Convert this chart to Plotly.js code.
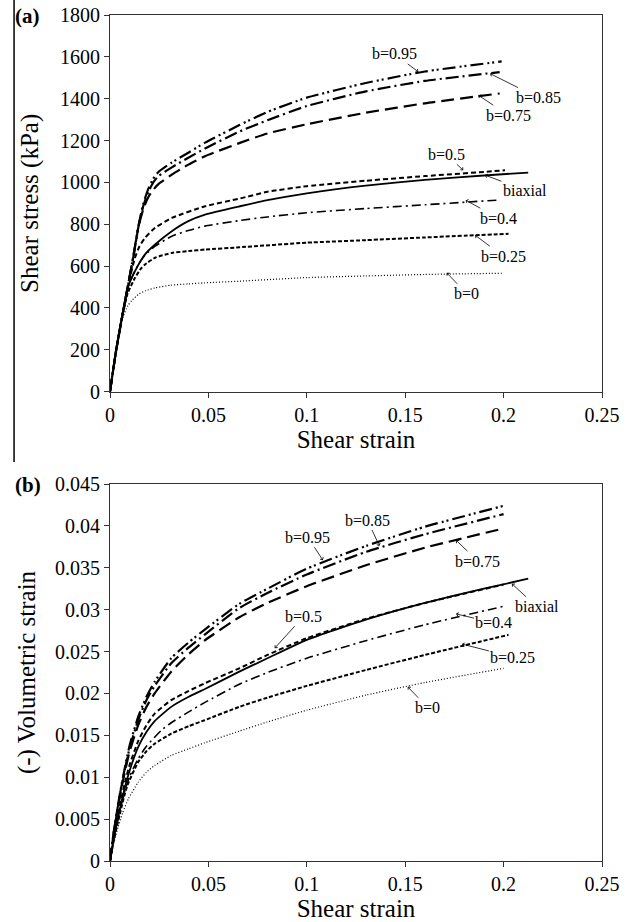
<!DOCTYPE html>
<html>
<head>
<meta charset="utf-8">
<script src="https://cdn.plot.ly/plotly-3.0.1.min.js"></script>
<style>html,body{margin:0;padding:0;background:#fff;}#chart{width:640px;height:922px;}</style>
</head>
<body>
<div id="chart"></div>
<script>
// ---------- (a) shear stress (kPa) vs shear strain ----------
const seriesNames = ["b=0", "b=0.25", "b=0.4", "biaxial", "b=0.5", "b=0.75", "b=0.85", "b=0.95"];

const stressX_b0    = [0,0.003,0.006,0.009,0.011,0.0145,0.018,0.023,0.031,0.04,0.048,0.066,0.1,0.13,0.16,0.2];
const stressY_b0    = [0,190,340,410,435,465,482,496,509,515,520,528,545,553,560,566];
const stressX_b025  = [0,0.003,0.006,0.009,0.0127,0.0155,0.0178,0.0229,0.0314,0.04,0.0483,0.066,0.1,0.13,0.16,0.2025];
const stressY_b025  = [0,190,350,470,544,585,608,640,663,672,679,690,712,724,737,754];
const stressX_b04   = [0,0.003,0.006,0.009,0.0115,0.0144,0.018,0.0229,0.0314,0.0398,0.0483,0.066,0.08,0.1,0.13,0.16,0.198];
const stressY_b04   = [0,190,350,490,555,608,655,695,743,770,791,818,835,855,875,893,916];
const stressX_biax  = [0,0.003,0.006,0.009,0.0127,0.0178,0.0229,0.0314,0.0398,0.0483,0.066,0.08,0.1,0.13,0.16,0.19,0.2125];
const stressY_biax  = [0,190,350,495,576,656,703,767,815,846,886,915,948,985,1012,1033,1047];
const stressX_b05   = [0,0.003,0.006,0.009,0.0127,0.015,0.0178,0.0229,0.0314,0.0483,0.066,0.08,0.1,0.13,0.16,0.19,0.2007];
const stressY_b05   = [0,190,350,500,640,695,735,783,830,886,923,955,982,1008,1030,1050,1058];
const stressX_b075  = [0,0.003,0.006,0.009,0.012,0.0145,0.017,0.0195,0.022,0.0246,0.0314,0.0398,0.0483,0.066,0.08,0.1,0.13,0.16,0.198];
const stressY_b075  = [0,190,350,500,650,790,875,930,965,992,1037,1085,1125,1189,1234,1278,1333,1378,1425];
const stressX_b085  = [0,0.003,0.006,0.009,0.012,0.0145,0.017,0.0195,0.022,0.0246,0.0314,0.0398,0.0483,0.066,0.08,0.1,0.13,0.16,0.198];
const stressY_b085  = [0,190,350,500,655,790,890,955,1000,1030,1072,1118,1162,1244,1297,1365,1435,1485,1527];
const stressX_b095  = [0,0.003,0.006,0.009,0.012,0.0145,0.017,0.0195,0.022,0.0246,0.0314,0.0398,0.0483,0.066,0.08,0.1,0.13,0.16,0.199];
const stressY_b095  = [0,190,350,500,655,795,900,970,1018,1050,1095,1142,1190,1275,1337,1405,1475,1530,1578];

// ---------- (b) (-) volumetric strain vs shear strain ----------
const volX_b0    = [0,0.002,0.0042,0.0065,0.0093,0.0143,0.0185,0.0227,0.0311,0.04,0.048,0.0657,0.08,0.1,0.13,0.16,0.2];
const volY_b0    = [0,0.0022,0.0041,0.0058,0.0074,0.0094,0.0106,0.0114,0.0126,0.0134,0.0141,0.0155,0.0166,0.0180,0.0198,0.0213,0.0230];
const volX_b025  = [0,0.002,0.005,0.0076,0.0093,0.0143,0.0185,0.0227,0.0311,0.04,0.048,0.0657,0.08,0.1,0.13,0.16,0.2025];
const volY_b025  = [0,0.0026,0.0056,0.0081,0.0093,0.0118,0.0131,0.0140,0.0152,0.0161,0.0168,0.0184,0.0195,0.0209,0.0228,0.0246,0.0270];
const volX_b04   = [0,0.002,0.005,0.0076,0.01,0.0143,0.0185,0.0261,0.0311,0.04,0.048,0.0657,0.08,0.1,0.13,0.16,0.2];
const volY_b04   = [0,0.0027,0.0060,0.0084,0.0101,0.0122,0.0137,0.0156,0.0165,0.0178,0.0189,0.0211,0.0225,0.0242,0.0263,0.0282,0.0304];
const volX_biax  = [0,0.002,0.005,0.0076,0.01,0.0143,0.0185,0.0227,0.0311,0.04,0.048,0.0657,0.08,0.1,0.13,0.16,0.19,0.2125];
const volY_biax  = [0,0.0028,0.0062,0.0088,0.0108,0.0136,0.0154,0.0167,0.0184,0.0196,0.0205,0.0226,0.0242,0.0264,0.0288,0.0308,0.0325,0.0337];
const volX_b05   = [0,0.002,0.005,0.0076,0.01,0.0143,0.0185,0.0227,0.0311,0.04,0.048,0.0657,0.08,0.1,0.13,0.16,0.2];
const volY_b05   = [0,0.0029,0.0066,0.0094,0.0115,0.0143,0.0162,0.0176,0.0192,0.0203,0.0212,0.0230,0.0246,0.0266,0.0289,0.0308,0.0330];
const volX_b075  = [0,0.002,0.005,0.0076,0.01,0.0143,0.0185,0.0227,0.0311,0.04,0.048,0.0657,0.08,0.1,0.13,0.16,0.2];
const volY_b075  = [0,0.0035,0.0077,0.0107,0.0131,0.0162,0.0184,0.0200,0.0226,0.0247,0.0263,0.0291,0.0308,0.0328,0.0353,0.0374,0.0397];
const volX_b085  = [0,0.002,0.005,0.0076,0.01,0.0143,0.0185,0.0227,0.0311,0.04,0.048,0.0657,0.08,0.1,0.13,0.16,0.2];
const volY_b085  = [0,0.0036,0.0079,0.0110,0.0135,0.0168,0.0192,0.0209,0.0236,0.0255,0.0270,0.0302,0.0320,0.0342,0.0369,0.0390,0.0414];
const volX_b095  = [0,0.002,0.005,0.0076,0.01,0.0143,0.0185,0.0227,0.0311,0.04,0.048,0.0657,0.08,0.1,0.13,0.16,0.2];
const volY_b095  = [0,0.0036,0.0080,0.0112,0.0138,0.0172,0.0196,0.0214,0.0242,0.0261,0.0276,0.0307,0.0325,0.0349,0.0376,0.0399,0.0424];

// ---------- styles ----------
const lineStyles = {
  "b=0":    {dash: "1px,2px", width: 1.2},
  "b=0.25": {dash: "4px,2px", width: 2},
  "b=0.4":  {dash: "9px,4px,2px,4px", width: 1.6},
  "biaxial":{dash: "solid", width: 1.8},
  "b=0.5":  {dash: "5px,3px", width: 2},
  "b=0.75": {dash: "13px,6px", width: 2.2},
  "b=0.85": {dash: "13px,4px,2px,4px", width: 2.2},
  "b=0.95": {dash: "13px,4px,2px,3px,2px,4px", width: 2.2}
};

const stressData = {
  "b=0": [stressX_b0, stressY_b0], "b=0.25": [stressX_b025, stressY_b025],
  "b=0.4": [stressX_b04, stressY_b04], "biaxial": [stressX_biax, stressY_biax],
  "b=0.5": [stressX_b05, stressY_b05], "b=0.75": [stressX_b075, stressY_b075],
  "b=0.85": [stressX_b085, stressY_b085], "b=0.95": [stressX_b095, stressY_b095]
};
const volData = {
  "b=0": [volX_b0, volY_b0], "b=0.25": [volX_b025, volY_b025],
  "b=0.4": [volX_b04, volY_b04], "biaxial": [volX_biax, volY_biax],
  "b=0.5": [volX_b05, volY_b05], "b=0.75": [volX_b075, volY_b075],
  "b=0.85": [volX_b085, volY_b085], "b=0.95": [volX_b095, volY_b095]
};

const traces = [];
seriesNames.forEach(n => {
  const st = lineStyles[n];
  traces.push({x: stressData[n][0], y: stressData[n][1], xaxis: "x", yaxis: "y", mode: "lines",
    name: n, line: {color: "#000", width: st.width, dash: st.dash, shape: "spline", smoothing: 0.5}});
  traces.push({x: volData[n][0], y: volData[n][1], xaxis: "x2", yaxis: "y2", mode: "lines",
    name: n, line: {color: "#000", width: st.width, dash: st.dash, shape: "spline", smoothing: 0.5}});
});

const serif = "Liberation Serif, Times New Roman, Tinos, DejaVu Serif, Noto Serif, serif";
const tickFont = {family: serif, size: 20, color: "#000"};
const titleFont = {family: serif, size: 25, color: "#000"};

function axisBase(extra) {
  return Object.assign({
    showline: true, mirror: true, linecolor: "#333", linewidth: 1,
    ticks: "outside", ticklen: 5, tickcolor: "#333", tickwidth: 1,
    showgrid: false, zeroline: false, tickfont: tickFont, fixedrange: true
  }, extra);
}

const annFont = {family: serif, size: 16, color: "#000"};
function lab(text, xref, yref, x, y, ax, ay) {
  return {text: text, xref: xref, yref: yref, x: x, y: y, ax: ax, ay: ay,
    showarrow: true, arrowhead: 4, arrowsize: 0.9, arrowwidth: 0.8, arrowcolor: "#000",
    font: annFont, standoff: 0, startstandoff: 0};
}

const annotations = [
  lab("b=0.95", "x", "y", 0.1567, 1528, -24, -18),
  lab("b=0.85", "x", "y", 0.1931, 1520, 48, 24),
  lab("b=0.75", "x", "y", 0.1871, 1417, 30, 20),
  lab("b=0.5",  "x", "y", 0.1795, 1058, -17, -16),
  lab("biaxial","x", "y", 0.1905, 1035, 40, 15),
  lab("b=0.4",  "x", "y", 0.1807, 915, 33, 18),
  lab("b=0.25", "x", "y", 0.1855, 748, 28, 21),
  lab("b=0",    "x", "y", 0.1711, 568, 20, 21),

  lab("b=0.95", "x2", "y2", 0.1082, 0.0359, -15, -23),
  lab("b=0.85", "x2", "y2", 0.1369, 0.0376, -12, -26),
  lab("b=0.75", "x2", "y2", 0.1758, 0.0383, 22, 21),
  lab("b=0.5",  "x2", "y2", 0.0837, 0.0254, 29, -32),
  lab("biaxial","x2", "y2", 0.2042, 0.0331, 25, 23),
  lab("b=0.4",  "x2", "y2", 0.1758, 0.0295, 38, 9),
  lab("b=0.25", "x2", "y2", 0.1788, 0.0259, 51, 13),
  lab("b=0",    "x2", "y2", 0.1513, 0.0208, 20, 21),

  {text: "<b>(a)</b>", xref: "paper", yref: "paper", x: -0.197, y: 0.9988, xanchor: "left", yanchor: "middle",
   showarrow: false, font: {family: serif, size: 21, color: "#000"}},
  {text: "<b>(b)</b>", xref: "paper", yref: "paper", x: -0.197, y: 0.4444, xanchor: "left", yanchor: "middle",
   showarrow: false, font: {family: serif, size: 21, color: "#000"}}
];

const layout = {
  width: 640, height: 922,
  margin: {l: 110, r: 38, t: 15, b: 61},
  paper_bgcolor: "#fff", plot_bgcolor: "#fff",
  showlegend: false,
  font: {family: serif, color: "#000"},
  xaxis: axisBase({domain: [0, 1], anchor: "y", range: [0, 0.25], tick0: 0, dtick: 0.05,
    title: {text: "Shear strain", font: titleFont, standoff: 5}}),
  yaxis: axisBase({domain: [0.5548, 1], anchor: "x", range: [0, 1800], tick0: 0, dtick: 200,
    title: {text: "Shear stress (kPa)", font: titleFont, standoff: 14}}),
  xaxis2: axisBase({domain: [0, 1], anchor: "y2", range: [0, 0.25], tick0: 0, dtick: 0.05,
    title: {text: "Shear strain", font: titleFont, standoff: 5}}),
  yaxis2: axisBase({domain: [0, 0.4456], anchor: "x2", range: [0, 0.045], tick0: 0, dtick: 0.005,
    title: {text: "(-) Volumetric strain", font: titleFont, standoff: 12}}),
  annotations: annotations,
  shapes: [
    {type: "line", xref: "paper", yref: "paper", x0: -0.195, x1: -0.195, y0: 0.4716, y1: 1.0177,
     line: {color: "#000", width: 1.5}}
  ]
};

Plotly.newPlot("chart", traces, layout, {displayModeBar: false, staticPlot: true});
</script>
</body>
</html>
